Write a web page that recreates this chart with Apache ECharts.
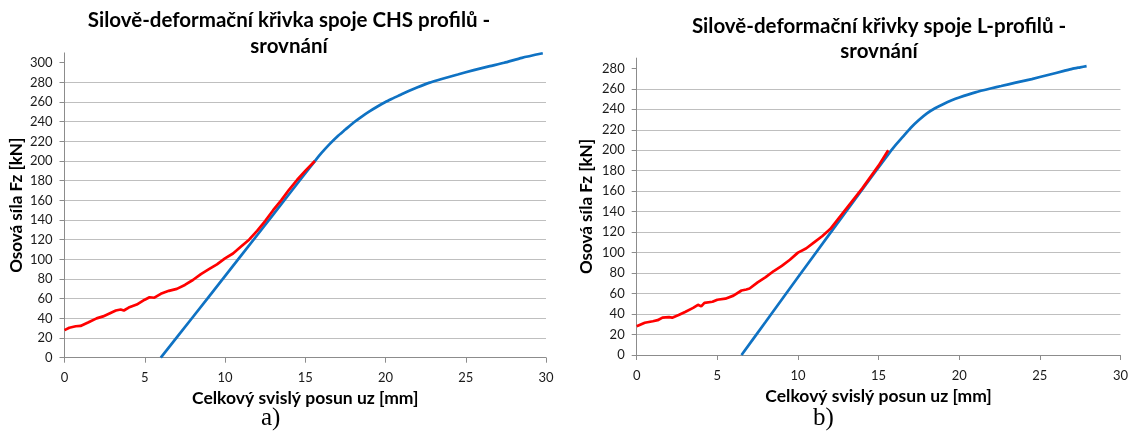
<!DOCTYPE html>
<html>
<head>
<meta charset="utf-8">
<script src="https://cdn.jsdelivr.net/npm/echarts@6/dist/echarts.min.js"></script>
<style>
  html, body { margin: 0; padding: 0; background: #fff; }
  #chart { width: 1131px; height: 431px; }
</style>
</head>
<body>
<div id="chart"></div>
<script>
// Axis ticks
const xTicks = [0, 5, 10, 15, 20, 25, 30];
const yTicksA = [0, 20, 40, 60, 80, 100, 120, 140, 160, 180, 200, 220, 240, 260, 280, 300];
const yTicksB = [0, 20, 40, 60, 80, 100, 120, 140, 160, 180, 200, 220, 240, 260, 280];

// a) CHS joint – blue curve (displacement [mm], force [kN])
const chsBlueX = [6.0, 8.0, 10.0, 12.0, 14.0, 15.6, 16.0, 16.5, 17.0, 17.5, 18.0, 18.5, 19.0, 19.5, 20.0, 20.5, 21.0, 22.0, 22.7, 23.5, 24.5, 25.5, 26.5, 27.4, 28.5, 29.8];
const chsBlueY = [0, 41.4, 83, 124.5, 166.5, 200, 208, 217, 225, 232, 239, 245, 250.5, 255.5, 260, 264, 268, 275, 279.5, 283.5, 288, 292.5, 296.5, 300, 305, 309.6];
// a) CHS joint – red curve
const chsRedX = [0, 0.3, 0.7, 1.0, 1.5, 2.0, 2.4, 2.8, 3.2, 3.5, 3.7, 4.0, 4.5, 5.0, 5.3, 5.6, 6.0, 6.5, 7.0, 7.5, 8.0, 8.5, 9.0, 9.5, 10.0, 10.5, 11.0, 11.5, 12.0, 12.5, 13.0, 13.5, 14.0, 14.5, 15.0, 15.6];
const chsRedY = [28, 30.5, 32, 32.3, 36, 40, 42, 45, 48, 49, 48, 51, 54, 59, 61.5, 61, 65, 68, 70, 74, 79, 85, 90, 95, 101, 106, 113, 120, 129, 139, 150, 160, 171, 181, 190, 200];

// b) L-profile joint – blue curve
const lBlueX = [6.5, 8.0, 10.0, 12.0, 14.0, 15.6, 16.0, 16.5, 17.0, 17.5, 18.0, 18.5, 19.0, 19.5, 20.0, 21.0, 22.0, 22.6, 23.5, 24.5, 25.5, 26.5, 27.0, 27.5, 27.9];
const lBlueY = [0, 32.5, 76, 119, 162, 196, 204, 213, 222, 229.5, 236, 241, 245, 248.5, 251.5, 256.5, 260.5, 262.7, 266, 269.5, 273.5, 277.5, 279.5, 281, 282.2];
// b) L-profile joint – red curve
const lRedX = [0, 0.5, 1.0, 1.3, 1.6, 2.0, 2.2, 2.6, 3.0, 3.5, 3.8, 4.0, 4.2, 4.7, 5.0, 5.5, 6.0, 6.5, 6.8, 7.0, 7.5, 8.0, 8.5, 9.0, 9.5, 10.0, 10.5, 11.0, 11.5, 12.0, 12.5, 13.0, 13.5, 14.0, 14.5, 15.0, 15.6];
const lRedY = [28, 31.5, 33, 34, 36.5, 37, 36.5, 39, 42, 46, 49, 47.5, 51, 52, 54, 55, 58, 63, 64, 65, 71, 76, 82, 87, 93, 100, 104, 110, 116, 123, 133, 143, 153, 163, 174, 185, 200];

const pairs = (xs, ys) => xs.map((x, i) => [x, ys[i]]);

const FONT = 'Lato, "Open Sans", sans-serif';
const gridColor = '#bfbfbf';
const axisColor = '#8c8c8c';
const blue = '#0f72c3';
const red = '#ff0000';

function xAxisFor(gridIndex, gap) {
  return {
    type: 'value', gridIndex, min: 0, max: 30, interval: 5,
    name: 'Celkový svislý posun uz [mm]', nameLocation: 'middle', nameGap: gap,
    nameTextStyle: { fontFamily: FONT, fontSize: 17.5, fontWeight: 'bold', color: '#000' },
    axisLine: { show: true, lineStyle: { color: axisColor, width: 1 } },
    axisTick: { show: true, inside: false, length: 5, lineStyle: { color: axisColor } },
    axisLabel: { fontFamily: FONT, fontSize: 13, color: '#1a1a1a', margin: 14,
                 customValues: xTicks },
    splitLine: { show: false }
  };
}

function yAxisFor(gridIndex, max, ticks, gap) {
  return {
    type: 'value', gridIndex, min: 0, max, interval: 20,
    name: 'Osová síla Fz [kN]', nameLocation: 'middle', nameGap: gap, nameRotate: 90,
    nameTextStyle: { fontFamily: FONT, fontSize: 17, fontWeight: 'bold', color: '#000' },
    axisLine: { show: true, lineStyle: { color: axisColor, width: 1 } },
    axisTick: { show: true, inside: false, length: 5, lineStyle: { color: axisColor },
                customValues: ticks },
    axisLabel: { fontFamily: FONT, fontSize: 13, color: '#1a1a1a', margin: 12,
                 customValues: ticks },
    splitLine: { show: true, showMaxLine: false, lineStyle: { color: gridColor, width: 1 } }
  };
}

function lineSeries(xi, yi, data, color, smooth) {
  return {
    type: 'line', xAxisIndex: xi, yAxisIndex: yi, data,
    showSymbol: false, symbol: 'none', smooth,
    lineStyle: { color, width: 2.7 }, itemStyle: { color },
    animation: false, silent: true
  };
}

const chart = echarts.init(document.getElementById('chart'), null, { renderer: 'canvas' });
chart.setOption({
  backgroundColor: '#ffffff',
  animation: false,
  title: [
    { text: 'Silově-deformační křivka spoje CHS profilů -\nsrovnání',
      left: 284, top: 2, textAlign: 'center',
      textStyle: { fontFamily: FONT, fontSize: 20.5, fontWeight: 'bold', color: '#000', lineHeight: 26 } },
    { text: 'Silově-deformační křivky spoje L-profilů -\nsrovnání',
      left: 874, top: 9, textAlign: 'center',
      textStyle: { fontFamily: FONT, fontSize: 20.5, fontWeight: 'bold', color: '#000', lineHeight: 25 } }
  ],
  grid: [
    { left: 64.5, top: 52.9, width: 481.5, height: 304.8, containLabel: false },
    { left: 636.7, top: 58.1, width: 483.8, height: 296.9, containLabel: false }
  ],
  xAxis: [xAxisFor(0, 18), xAxisFor(1, 20)],
  yAxis: [yAxisFor(0, 310, yTicksA, 39), yAxisFor(1, 290, yTicksB, 42)],
  series: [
    lineSeries(0, 0, pairs(chsBlueX, chsBlueY), blue, 0.2),
    lineSeries(0, 0, pairs(chsRedX, chsRedY), red, false),
    lineSeries(1, 1, pairs(lBlueX, lBlueY), blue, 0.2),
    lineSeries(1, 1, pairs(lRedX, lRedY), red, false)
  ],
  graphic: [
    { type: 'text', left: 261, top: 406,
      style: { text: 'a)', font: '25px "Liberation Serif", "DejaVu Serif", serif', fill: '#000' } },
    { type: 'text', left: 813, top: 406,
      style: { text: 'b)', font: '25px "Liberation Serif", "DejaVu Serif", serif', fill: '#000' } }
  ]
});
</script>
</body>
</html>
